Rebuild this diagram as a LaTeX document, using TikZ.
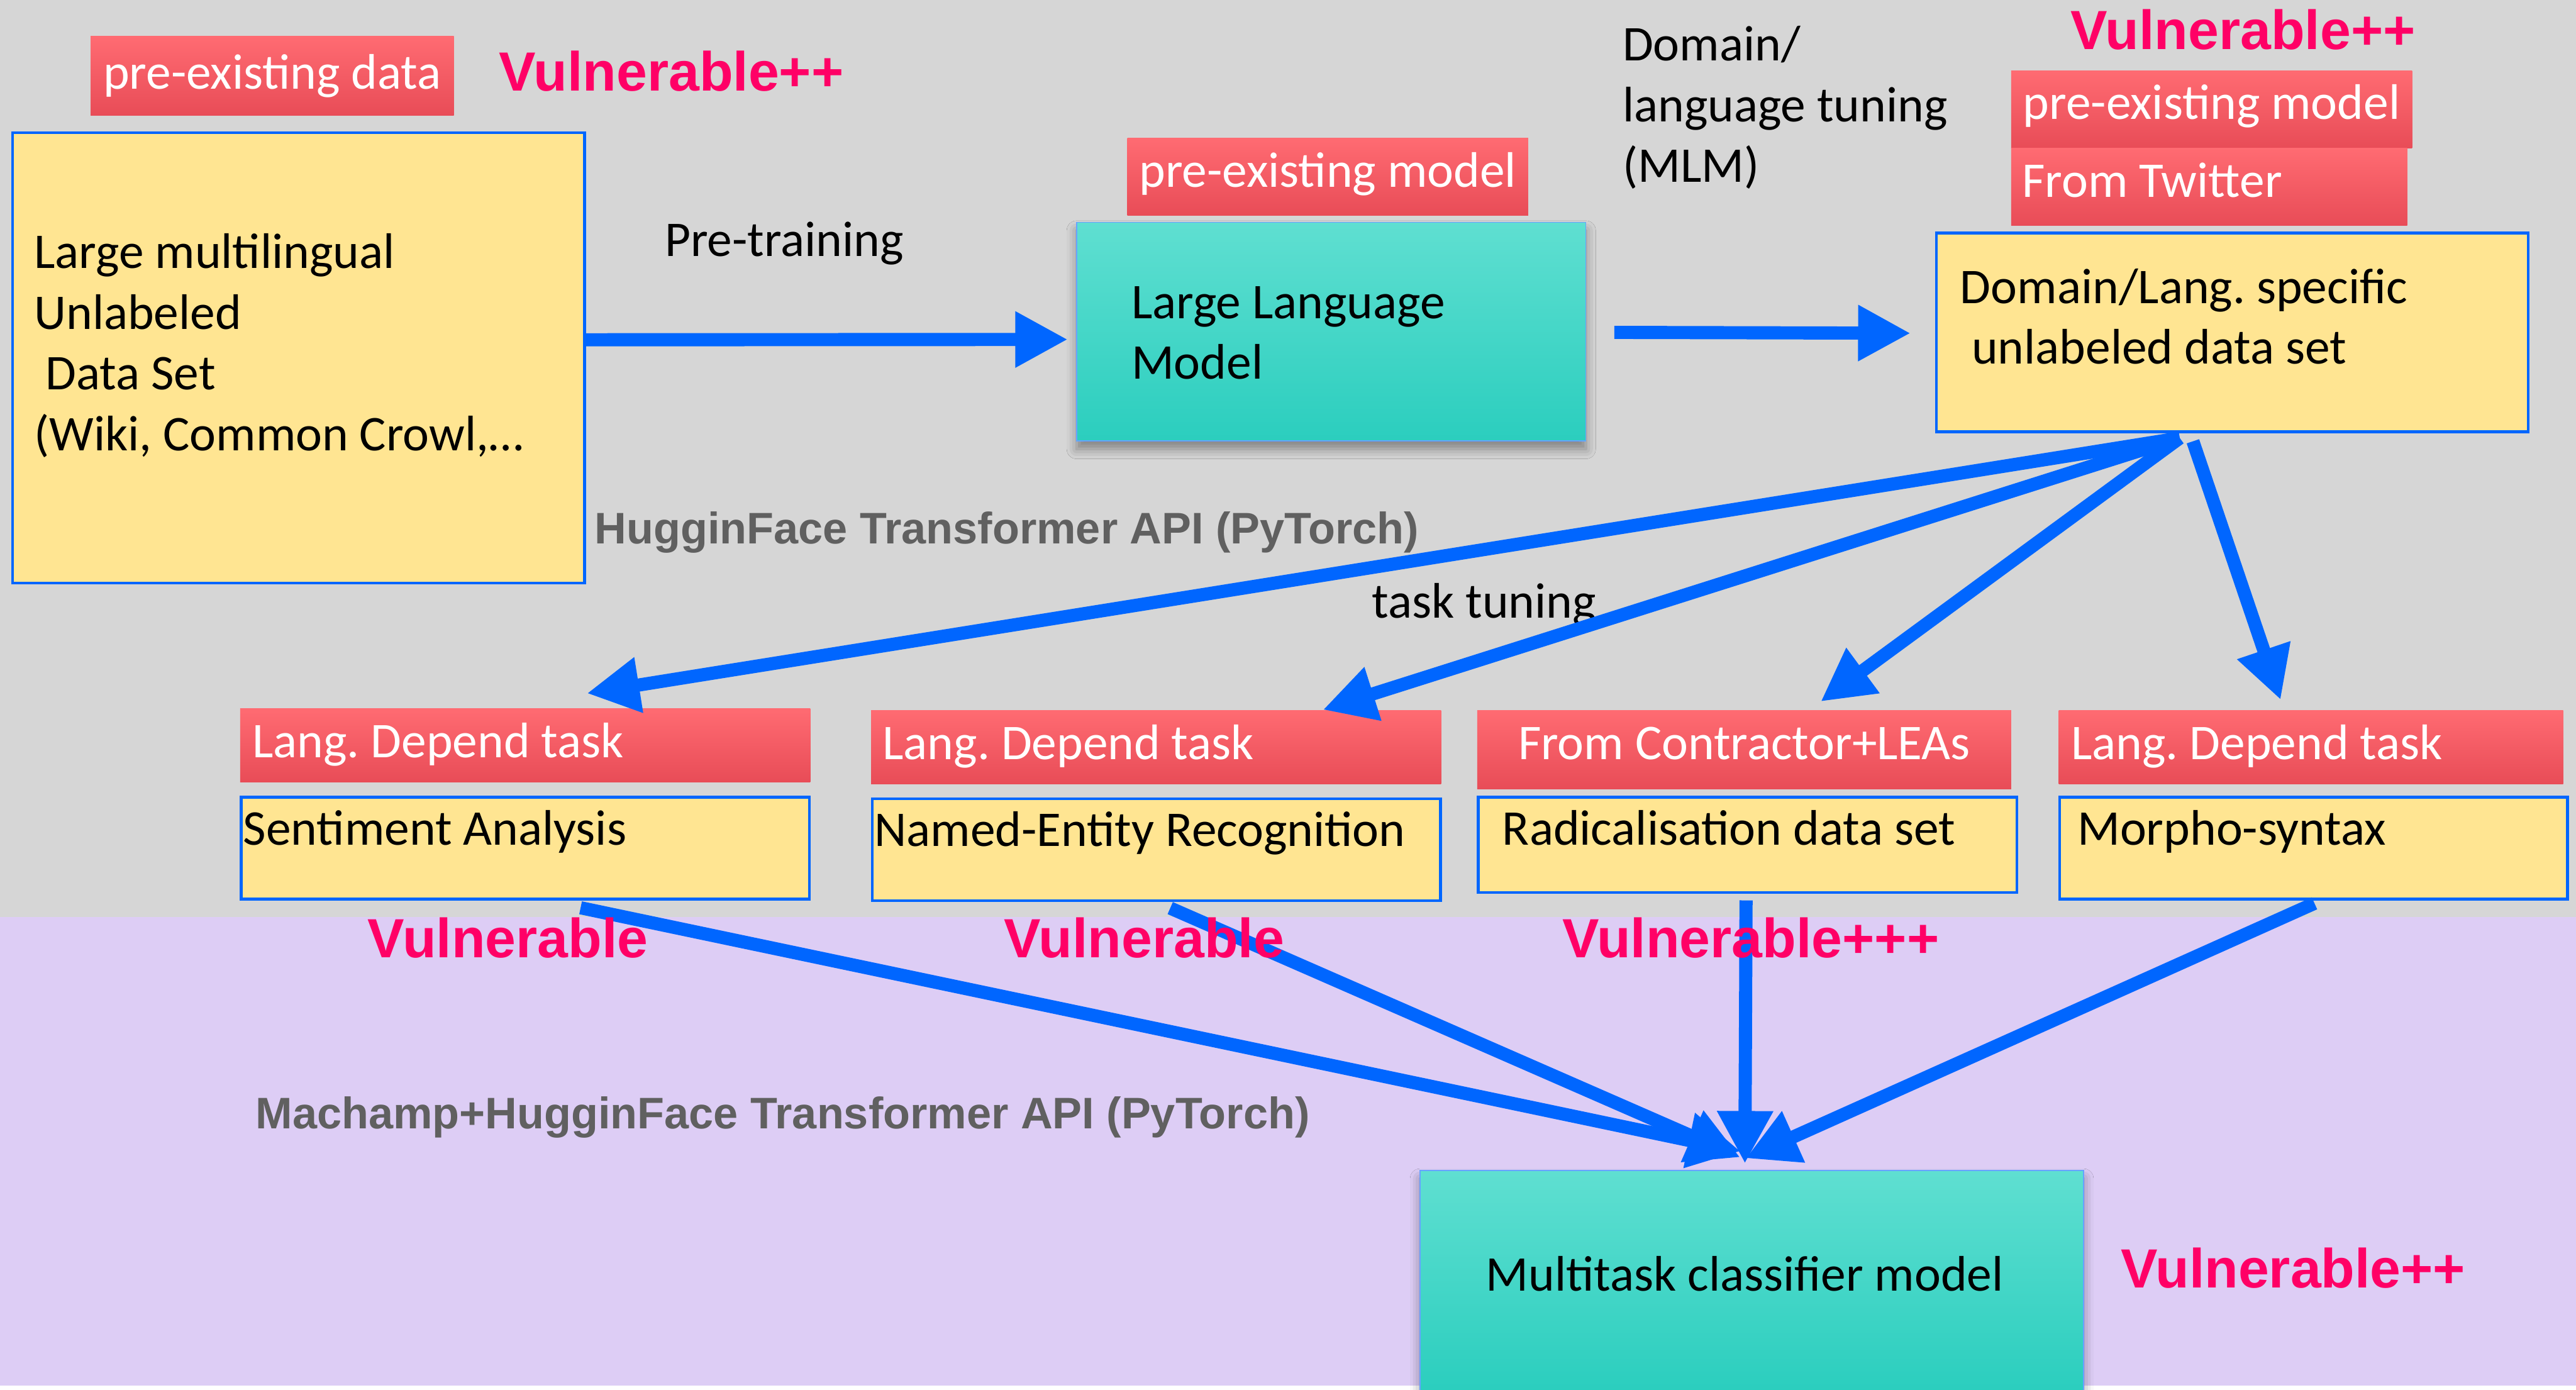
\documentclass[tikz,border=0pt]{standalone}
\usepackage{fontspec}
\setmainfont{Carlito}
\newfontfamily\headfont{Liberation Sans}
\usetikzlibrary{positioning,calc,arrows.meta,shadows.blur}
\definecolor{Slate}{RGB}{214,214,214}
\definecolor{Lilac}{RGB}{221,205,245}
\definecolor{Butter}{RGB}{255,229,146}
\definecolor{Flow}{RGB}{0,102,255}
\definecolor{Alert}{RGB}{255,0,102}
\definecolor{TagTop}{RGB}{255,107,114}
\definecolor{TagBottom}{RGB}{232,76,87}
\definecolor{TealTop}{RGB}{95,223,209}
\definecolor{TealBottom}{RGB}{43,206,190}
\definecolor{ApiGray}{RGB}{96,96,96}
\newcommand{\yellowbox}[3]{
    \node(#1)[
        draw=Flow,
        line width=1.6pt,
        fill=Butter,
        anchor=north west,
        inner ysep=0pt,
        align=flush left,
        #2
    ]{#3};
}
\newcommand{\tagbox}[3]{
    \node(#1)[
        top color=TagTop,
        bottom color=TagBottom,
        text=white,
        anchor=north west,
        inner ysep=0pt,
        %text centered,
        #2
    ]{#3};
}
\newcommand{\modelbox}[3]{
    \node(#1)[
        draw=Flow!60,
        line width=0.6pt,
        top color=TealTop,
        bottom color=TealBottom,
        blur shadow={shadow xshift=0pt, shadow yshift=-5pt, shadow blur radius=6pt, shadow opacity=40},
        anchor=north west,
        inner ysep=0pt,
        align=flush left,
        #2
    ]{#3};
}
\newcommand{\vuln}[3]{
    \node(#1)[
        anchor=base west,
        inner sep=0pt,
        text=Alert,
        font=\headfont\bfseries\fontsize{33.6}{40}\selectfont,
        #2
    ]{#3};
}
\tikzset{
    bluearrow/.style={-{Triangle[length=32pt,width=32pt]}, line width=8pt, draw=Flow},
    apitext/.style={anchor=base west, inner sep=0pt, text=ApiGray, font=\headfont\bfseries\fontsize{26.9}{32}\selectfont},
    plain/.style={anchor=base west, inner sep=0pt}
}
\frenchspacing
\begin{document}
\begin{tikzpicture}[x=1pt, y=-1pt, font=\fontsize{30.4}{37}\selectfont]
	% two bands
	\fill[white] (0,0) rectangle (1568,846);
	\fill[Slate] (0,0) rectangle (1568,558);
	\fill[Lilac] (0,558) rectangle (1568,843.5);
	\useasboundingbox (0,0) rectangle (1568,846);

	\tagbox{datatag}{at={(55,22)}, minimum width=221pt, text height=31.9pt, text depth=16.1pt}{pre-existing data}
	\yellowbox{corpus}{at={(7,80)}, inner xsep=13pt, text width=322pt, text height=82.5pt, text depth=191.5pt}{Large multilingual\\Unlabeled\\\hspace*{.23em}Data Set\\(Wiki, Common Crowl,…}

	\node(pretrain)[plain] at (404.5,156) {Pre-training};

	\tagbox{llmtag}{at={(686,84)}, minimum width=244pt, text height=29.6pt, text depth=17.4pt}{pre-existing model}
	\modelbox{llm}{at={(655,135)}, inner xsep=33.4pt, text width=243.2pt, text height=58.5pt, text depth=74.5pt}{Large Language\\Model}

	\node(mlm)[plain, text width=220pt, align=flush left] at (987.5,36.9) {Domain/\\language tuning\\(MLM)};

	\tagbox{pmtag}{at={(1224,43)}, minimum width=244pt, text height=29.3pt, text depth=17.7pt}{pre-existing model}
	\tagbox{twittag}{at={(1224,90)}, inner xsep=6.7pt, text width=227.6pt, align=flush left, text height=30pt, text depth=17pt}{From Twitter}
	\yellowbox{dom}{at={(1178,141)}, inner xsep=14.4pt, text width=331.2pt, text height=42.8pt, text depth=78.2pt}{Domain/Lang. specific\\\hspace*{.23em}unlabeled data set}

	\node(api)[apitext] at (361.8,330.8) {HugginFace Transformer API (PyTorch)};
	\node(tasktune)[plain] at (835,376) {task tuning};

	% task row
	\tagbox{senttag}{at={(146,431)}, inner xsep=7.4pt, text width=332.2pt, align=flush left, text height=30pt, text depth=15pt}{Lang. Depend task}
	\tagbox{nertag}{at={(530,432)}, inner xsep=7.1pt, text width=332.8pt, align=flush left, text height=29.9pt, text depth=15.1pt}{Lang. Depend task}
	\tagbox{radtag}{at={(899,432)}, minimum width=325pt, text height=29.9pt, text depth=18.1pt}{From Contractor+LEAs}
	\tagbox{mortag}{at={(1253,432)}, inner xsep=7.5pt, text width=292pt, align=flush left, text height=29.9pt, text depth=15.1pt}{Lang. Depend task}

	\yellowbox{sentbox}{below=8pt of senttag.south west, anchor=north west, inner xsep=1.3pt, text width=343.4pt, text height=29pt, text depth=33pt}{Sentiment Analysis}
	\yellowbox{nerbox}{below=8pt of nertag.south west, anchor=north west, inner xsep=1.5pt, text width=343pt, text height=28.8pt, text depth=33.2pt}{Named-Entity Recognition}
	\yellowbox{radbox}{below=4pt of radtag.south west, anchor=north west, inner xsep=14.7pt, text width=298.6pt, text height=29pt, text depth=29pt}{Radicalisation data set}
	\yellowbox{morbox}{below=7pt of mortag.south west, anchor=north west, inner xsep=10.7pt, text width=287.6pt, text height=29pt, text depth=33pt}{Morpho-syntax}

	\node(machamp)[apitext] at (155.5,686.8) {Machamp+HugginFace Transformer API (PyTorch)};
	\modelbox{multi}{at={(864,712)}, inner xsep=40.2pt, text width=323.6pt, text height=73.4pt, text depth=60.6pt}{Multitask classifier model}

	% pre-training and domain tuning
	\draw[bluearrow] ($(corpus.east)+(0,-11)$) -- ($(llm.west)+(-5,4.8)$);
	\draw[bluearrow] ($(llm.east)+(17,0.5)$) -- ($(dom.west)+(-15,0.5)$);

	% task tuning fan
	\coordinate (fan) at ($(dom.south)+(-32,3)$);
	\draw[bluearrow] (fan) -- ($(senttag.north)+(37.5,-9)$);
	\draw[bluearrow] (fan) -- ($(nertag.north)+(101.5,0)$);
	\draw[bluearrow] (fan) -- ($(radtag.north)+(46.5,-5)$);
	\draw[bluearrow] ($(dom.south)+(-24,5)$) -- ($(mortag.north)+(-18.5,-6)$);

	% into the multitask model
	\draw[bluearrow] ($(sentbox.south)+(33.6,4.5)$) -- ($(multi.north)+(-6.8,-11.3)$);
	\draw[bluearrow] ($(nerbox.south)+(8.5,3.7)$) -- ($(multi.north)+(-7,-7.6)$);
	\draw[bluearrow] ($(radbox.south)+(-1,4)$) -- ($(multi.north)+(-4.2,-3.8)$);
	\draw[bluearrow] ($(morbox.south)+(0.5,1.8)$) -- ($(multi.north)+(-3.8,-7)$);

	\vuln{vulndata}{at={(303.5,55.5)}}{Vulnerable++}
	\vuln{vulndom}{at={(1260.2,30.1)}}{Vulnerable++}
	\vuln{vulnsent}{at={(223.7,583)}}{Vulnerable}
	\vuln{vulnner}{at={(611,583)}}{Vulnerable}
	\vuln{vulnrad}{at={(950.7,583)}}{Vulnerable+++}
	\vuln{vulnmulti}{at={(1290.7,783.8)}}{Vulnerable++}
\end{tikzpicture}
\end{document}
